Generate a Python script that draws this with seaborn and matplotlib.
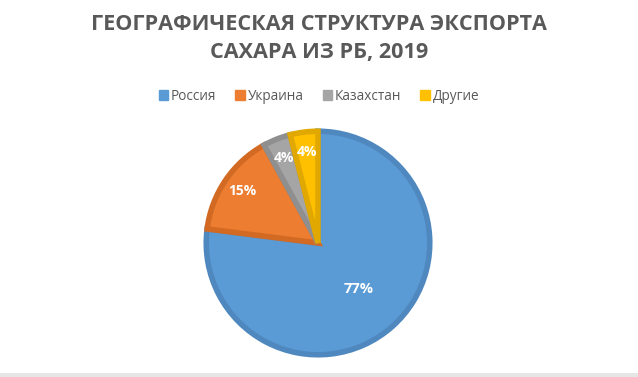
import matplotlib
matplotlib.use("Agg")
import matplotlib.pyplot as plt
import numpy as np
import seaborn as sns
from matplotlib.patches import Rectangle

# data
countries = ["Россия", "Украина", "Казахстан", "Другие"]
shares = [77, 15, 4, 4]
colors = ["#5B9BD5", "#ED7D31", "#A5A5A5", "#FFC000"]
edge_colors = ["#4F88BE", "#D26A23", "#8F8F8F", "#E0A800"]

sns.set_theme(style="white")
plt.rcParams["font.family"] = ["Open Sans", "DejaVu Sans"]

fig = plt.figure(figsize=(6.38, 3.77), dpi=100)
fig.patch.set_facecolor("white")

# pie centre ~ (318, 243) px, radius ~113 px
r_px = 114
cx, cy = 318, 243
ax = fig.add_axes([(cx - r_px) / 638, (377 - cy - r_px) / 377, 2 * r_px / 638, 2 * r_px / 377])

wedges, texts, autotexts = ax.pie(
    shares,
    colors=colors,
    startangle=90,
    counterclock=False,
    autopct="%d%%",
    pctdistance=0.82,
    wedgeprops={"linewidth": 4},
    textprops={"color": "white", "fontsize": 10, "fontweight": "bold"},
)
for w, ec in zip(wedges, edge_colors):
    w.set_edgecolor(ec)
    w.set_joinstyle("miter")

# move the big label closer to the centre
w0 = wedges[0]
mid = np.deg2rad((w0.theta1 + w0.theta2) / 2)
autotexts[0].set_position((0.55 * np.cos(mid), 0.55 * np.sin(mid)))
autotexts[0].set_fontsize(10.5)

ax.set_xlim(-1.02, 1.02)
ax.set_ylim(-1.02, 1.02)
ax.set_aspect("equal")
ax.axis("off")

fig.text(0.5, 0.962, "ГЕОГРАФИЧЕСКАЯ СТРУКТУРА ЭКСПОРТА\nСАХАРА ИЗ РБ, 2019",
         ha="center", va="top", fontsize=15.6, fontweight="bold", color="#595959",
         linespacing=1.42)

handles = [Rectangle((0, 0), 1, 1, color=c) for c in colors]
fig.legend(handles, countries, loc="center", bbox_to_anchor=(0.5, 1 - 96 / 377),
           ncol=4, frameon=False, fontsize=9.8, handlelength=0.7, handleheight=0.7,
           handletextpad=0.2, columnspacing=1.4, labelcolor="#595959")

# light strip along the bottom edge
fig.add_artist(Rectangle((0, 0), 1, 4 / 377, transform=fig.transFigure,
                         color="#E6E6E6", lw=0))

fig.savefig("out.png", dpi=100, facecolor="white")
